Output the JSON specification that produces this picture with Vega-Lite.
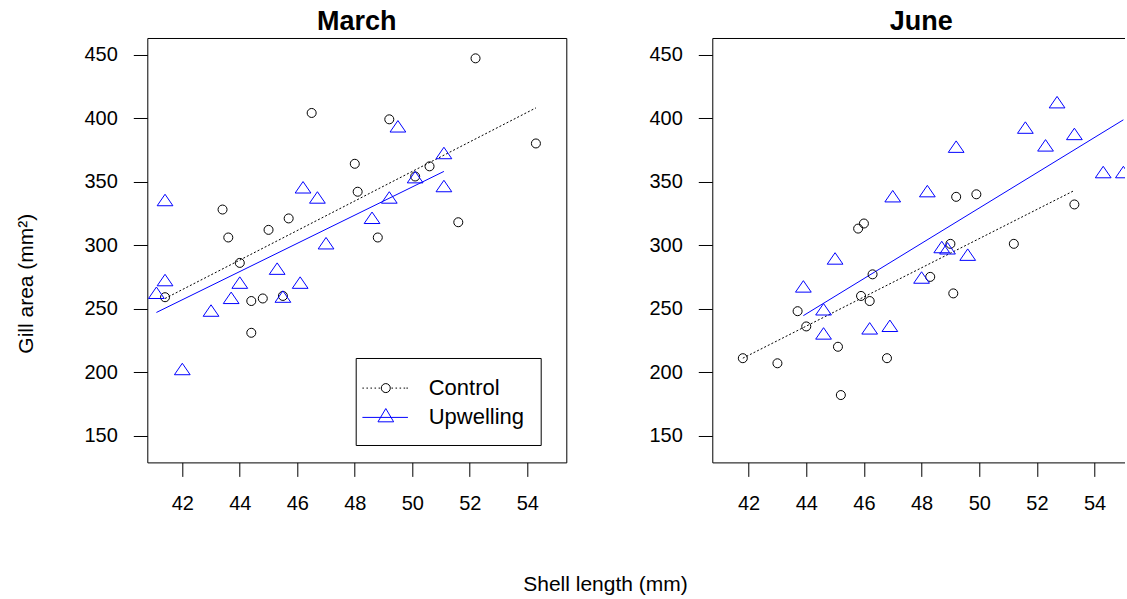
{
  "$schema": "https://vega.github.io/schema/vega-lite/v6.json",
  "background": "white",
  "padding": {"left": 14.3, "top": 7, "right": 0, "bottom": 0},
  "bounds": "flush",
  "spacing": 146,
  "resolve": {
    "scale": {"color": "independent", "shape": "independent"},
    "legend": {"color": "independent", "shape": "independent"}
  },
  "config": {
    "font": "Liberation Sans",
    "view": {"stroke": "black", "strokeWidth": 1},
    "axis": {
      "domain": false, "grid": false, "tickColor": "black", "tickSize": 14, "tickWidth": 1,
      "labelColor": "black", "labelFontSize": 20, "labelFlush": false, "labelOverlap": false,
      "titleColor": "black", "titleFontSize": 21, "titleFontWeight": "normal",
      "domainColor": "black", "domainWidth": 1
    },
    "axisX": {"labelPadding": 17.5},
    "axisY": {"labelPadding": 16},
    "title": {"fontSize": 27, "fontWeight": "bold", "color": "black", "offset": 2}
  },
  "datasets": {
    "pts": [
      {"month": "March", "group": "Control", "length": 41.4, "area": 259},
      {"month": "March", "group": "Control", "length": 43.4, "area": 328},
      {"month": "March", "group": "Control", "length": 43.6, "area": 306},
      {"month": "March", "group": "Control", "length": 44.0, "area": 286},
      {"month": "March", "group": "Control", "length": 44.4, "area": 231},
      {"month": "March", "group": "Control", "length": 44.4, "area": 256},
      {"month": "March", "group": "Control", "length": 44.8, "area": 258},
      {"month": "March", "group": "Control", "length": 45.0, "area": 312},
      {"month": "March", "group": "Control", "length": 45.5, "area": 260},
      {"month": "March", "group": "Control", "length": 45.7, "area": 321},
      {"month": "March", "group": "Control", "length": 46.5, "area": 404},
      {"month": "March", "group": "Control", "length": 48.0, "area": 364},
      {"month": "March", "group": "Control", "length": 48.1, "area": 342},
      {"month": "March", "group": "Control", "length": 48.8, "area": 306},
      {"month": "March", "group": "Control", "length": 49.2, "area": 399},
      {"month": "March", "group": "Control", "length": 50.1, "area": 354},
      {"month": "March", "group": "Control", "length": 50.6, "area": 362},
      {"month": "March", "group": "Control", "length": 51.6, "area": 318},
      {"month": "March", "group": "Control", "length": 52.2, "area": 447},
      {"month": "March", "group": "Control", "length": 54.3, "area": 380},
      {"month": "March", "group": "Upwelling", "length": 41.1, "area": 261},
      {"month": "March", "group": "Upwelling", "length": 41.4, "area": 271},
      {"month": "March", "group": "Upwelling", "length": 41.4, "area": 334},
      {"month": "March", "group": "Upwelling", "length": 42.0, "area": 201},
      {"month": "March", "group": "Upwelling", "length": 43.0, "area": 247},
      {"month": "March", "group": "Upwelling", "length": 43.7, "area": 257},
      {"month": "March", "group": "Upwelling", "length": 44.0, "area": 269},
      {"month": "March", "group": "Upwelling", "length": 45.3, "area": 280},
      {"month": "March", "group": "Upwelling", "length": 45.5, "area": 258},
      {"month": "March", "group": "Upwelling", "length": 46.1, "area": 269},
      {"month": "March", "group": "Upwelling", "length": 46.2, "area": 344},
      {"month": "March", "group": "Upwelling", "length": 46.7, "area": 336},
      {"month": "March", "group": "Upwelling", "length": 47.0, "area": 300},
      {"month": "March", "group": "Upwelling", "length": 48.6, "area": 320},
      {"month": "March", "group": "Upwelling", "length": 49.2, "area": 336},
      {"month": "March", "group": "Upwelling", "length": 49.5, "area": 392},
      {"month": "March", "group": "Upwelling", "length": 50.1, "area": 352},
      {"month": "March", "group": "Upwelling", "length": 51.1, "area": 345},
      {"month": "March", "group": "Upwelling", "length": 51.1, "area": 371},
      {"month": "June", "group": "Control", "length": 41.8, "area": 211},
      {"month": "June", "group": "Control", "length": 43.0, "area": 207},
      {"month": "June", "group": "Control", "length": 43.7, "area": 248},
      {"month": "June", "group": "Control", "length": 44.0, "area": 236},
      {"month": "June", "group": "Control", "length": 45.1, "area": 220},
      {"month": "June", "group": "Control", "length": 45.2, "area": 182},
      {"month": "June", "group": "Control", "length": 45.8, "area": 313},
      {"month": "June", "group": "Control", "length": 45.9, "area": 260},
      {"month": "June", "group": "Control", "length": 46.0, "area": 317},
      {"month": "June", "group": "Control", "length": 46.2, "area": 256},
      {"month": "June", "group": "Control", "length": 46.3, "area": 277},
      {"month": "June", "group": "Control", "length": 46.8, "area": 211},
      {"month": "June", "group": "Control", "length": 48.3, "area": 275},
      {"month": "June", "group": "Control", "length": 49.0, "area": 301},
      {"month": "June", "group": "Control", "length": 49.1, "area": 262},
      {"month": "June", "group": "Control", "length": 49.2, "area": 338},
      {"month": "June", "group": "Control", "length": 49.9, "area": 340},
      {"month": "June", "group": "Control", "length": 51.2, "area": 301},
      {"month": "June", "group": "Control", "length": 53.3, "area": 332},
      {"month": "June", "group": "Upwelling", "length": 43.9, "area": 266},
      {"month": "June", "group": "Upwelling", "length": 44.6, "area": 248},
      {"month": "June", "group": "Upwelling", "length": 44.6, "area": 229},
      {"month": "June", "group": "Upwelling", "length": 45.0, "area": 288},
      {"month": "June", "group": "Upwelling", "length": 46.2, "area": 233},
      {"month": "June", "group": "Upwelling", "length": 46.9, "area": 235},
      {"month": "June", "group": "Upwelling", "length": 47.0, "area": 337},
      {"month": "June", "group": "Upwelling", "length": 48.0, "area": 273},
      {"month": "June", "group": "Upwelling", "length": 48.2, "area": 341},
      {"month": "June", "group": "Upwelling", "length": 48.7, "area": 297},
      {"month": "June", "group": "Upwelling", "length": 48.9, "area": 296},
      {"month": "June", "group": "Upwelling", "length": 49.2, "area": 376},
      {"month": "June", "group": "Upwelling", "length": 49.6, "area": 291},
      {"month": "June", "group": "Upwelling", "length": 51.6, "area": 391},
      {"month": "June", "group": "Upwelling", "length": 52.3, "area": 377},
      {"month": "June", "group": "Upwelling", "length": 52.7, "area": 411},
      {"month": "June", "group": "Upwelling", "length": 53.3, "area": 386},
      {"month": "June", "group": "Upwelling", "length": 54.3, "area": 356},
      {"month": "June", "group": "Upwelling", "length": 55.0, "area": 356}
    ],
    "fit": [
      {"month": "March", "group": "Control", "length": 41.4, "area": 258},
      {"month": "March", "group": "Control", "length": 54.3, "area": 408},
      {"month": "March", "group": "Upwelling", "length": 41.1, "area": 247},
      {"month": "March", "group": "Upwelling", "length": 51.1, "area": 358},
      {"month": "June", "group": "Control", "length": 41.8, "area": 211},
      {"month": "June", "group": "Control", "length": 53.3, "area": 343},
      {"month": "June", "group": "Upwelling", "length": 43.9, "area": 244.5},
      {"month": "June", "group": "Upwelling", "length": 55.0, "area": 398.6}
    ]
  },
  "hconcat": [
    {
      "width": 419,
      "height": 424.4,
      "title": {"text": "March"},
      "encoding": {
        "x": {"field": "length", "type": "quantitative", "scale": {"domain": [40.783, 55.357], "nice": false, "zero": false},
          "axis": {"values": [42, 44, 46, 48, 50, 52, 54], "title": "Shell length (mm)", "titleX": 457.7, "titleY": 128, "titleBaseline": "alphabetic", "titleAlign": "center", "titleAngle": 0}},
        "y": {"field": "area", "type": "quantitative", "scale": {"domain": [129, 463], "nice": false, "zero": false},
          "axis": {"values": [150, 200, 250, 300, 350, 400, 450], "title": "Gill area (mm²)", "titleX": -115.3, "titleY": 245.2, "titleAngle": 270, "titleBaseline": "alphabetic", "titleAlign": "center"}}
      },
      "layer": [
        {
          "data": {"name": "fit"},
          "transform": [{"filter": "datum.month === 'March' && datum.group === 'Control'"}],
          "mark": {"type": "line", "strokeWidth": 1, "color": "black", "strokeDash": [2, 2]}
        },
        {
          "data": {"name": "fit"},
          "transform": [{"filter": "datum.month === 'March' && datum.group === 'Upwelling'"}],
          "mark": {"type": "line", "strokeWidth": 1, "color": "#0000ff"}
        },
        {
          "data": {"name": "pts"},
          "transform": [{"filter": "datum.month === 'March' && datum.group === 'Control'"}],
          "mark": {"type": "point", "shape": "circle", "filled": false, "opacity": 1, "strokeWidth": 1, "size": 81, "color": "black"}
        },
        {
          "data": {"name": "pts"},
          "transform": [{"filter": "datum.month === 'March' && datum.group === 'Upwelling'"}],
          "mark": {"type": "point", "shape": "M0,-1.7L1.75,0.85L-1.75,0.85Z", "filled": false, "opacity": 1, "strokeWidth": 1, "size": 81, "color": "#0000ff"}
        },
        {
          "data": {"name": "pts"},
          "transform": [{"filter": "false"}],
          "mark": {"type": "point", "filled": false, "opacity": 1, "strokeWidth": 1},
          "encoding": {
            "color": {"field": "group", "type": "nominal", "scale": {"domain": ["Control", "Upwelling"], "range": ["black", "#0000ff"]},
              "legend": {
                "orient": "none", "legendX": 208.4, "legendY": 320, "title": null,
                "strokeColor": "black", "fillColor": "white", "padding": 16.6, "rowPadding": 4.3,
                "symbolSize": 640, "symbolStrokeWidth": 1, "labelOffset": 29.4, "labelFontSize": 22, "labelColor": "black"
              }},
            "shape": {"field": "group", "type": "nominal",
              "scale": {"domain": ["Control", "Upwelling"], "range": [
                "M-1.85,0h0.12M-1.53,0h0.12M-1.21,0h0.12M-0.89,0h0.12M-0.57,0h0.12M0.45,0h0.12M0.77,0h0.12M1.09,0h0.12M1.41,0h0.12M1.63,0h0.12M0.356,0A0.356,0.356 0 1 1 -0.356,0A0.356,0.356 0 1 1 0.356,0",
                "M-1.85,0H1.75M0,-0.7L0.62,0.35L-0.62,0.35Z"]},
              "legend": {
                "orient": "none", "legendX": 208.4, "legendY": 320, "title": null,
                "strokeColor": "black", "fillColor": "white", "padding": 16.6, "rowPadding": 4.3,
                "symbolSize": 640, "symbolStrokeWidth": 1, "labelOffset": 29.4, "labelFontSize": 22, "labelColor": "black"
              }}
          }
        }
      ]
    },
    {
      "width": 413,
      "height": 424.4,
      "view": {"stroke": null},
      "title": {"text": "June", "dx": 2.5},
      "resolve": {"axis": {"x": "independent"}},
      "encoding": {
        "y": {"field": "area", "type": "quantitative", "scale": {"domain": [129, 463], "nice": false, "zero": false},
          "axis": {"values": [150, 200, 250, 300, 350, 400, 450], "title": null, "domain": true}}
      },
      "layer": [
        {
          "data": {"name": "fit"},
          "transform": [{"filter": "datum.month === 'June' && datum.group === 'Control'"}],
          "mark": {"type": "line", "strokeWidth": 1, "color": "black", "strokeDash": [2, 2], "clip": true},
          "encoding": {
            "x": {"field": "length", "type": "quantitative", "scale": {"domain": [40.741, 55.066], "nice": false, "zero": false},
              "axis": {"orient": "top", "labels": false, "ticks": false, "title": null, "domain": true}}
          }
        },
        {
          "data": {"name": "fit"},
          "transform": [{"filter": "datum.month === 'June' && datum.group === 'Upwelling'"}],
          "mark": {"type": "line", "strokeWidth": 1, "color": "#0000ff", "clip": true},
          "encoding": {
            "x": {"field": "length", "type": "quantitative", "scale": {"domain": [40.741, 55.066], "nice": false, "zero": false}, "axis": null}
          }
        },
        {
          "data": {"name": "pts"},
          "transform": [{"filter": "datum.month === 'June' && datum.group === 'Control'"}],
          "mark": {"type": "point", "shape": "circle", "filled": false, "opacity": 1, "strokeWidth": 1, "size": 81, "color": "black", "clip": true},
          "encoding": {
            "x": {"field": "length", "type": "quantitative", "scale": {"domain": [40.741, 55.066], "nice": false, "zero": false},
              "axis": {"values": [42, 44, 46, 48, 50, 52, 54], "title": null, "domain": true}}
          }
        },
        {
          "data": {"name": "pts"},
          "transform": [{"filter": "datum.month === 'June' && datum.group === 'Upwelling'"}],
          "mark": {"type": "point", "shape": "M0,-1.7L1.75,0.85L-1.75,0.85Z", "filled": false, "opacity": 1, "strokeWidth": 1, "size": 81, "color": "#0000ff", "clip": true},
          "encoding": {
            "x": {"field": "length", "type": "quantitative", "scale": {"domain": [40.741, 55.066], "nice": false, "zero": false}, "axis": null}
          }
        }
      ]
    }
  ]
}
